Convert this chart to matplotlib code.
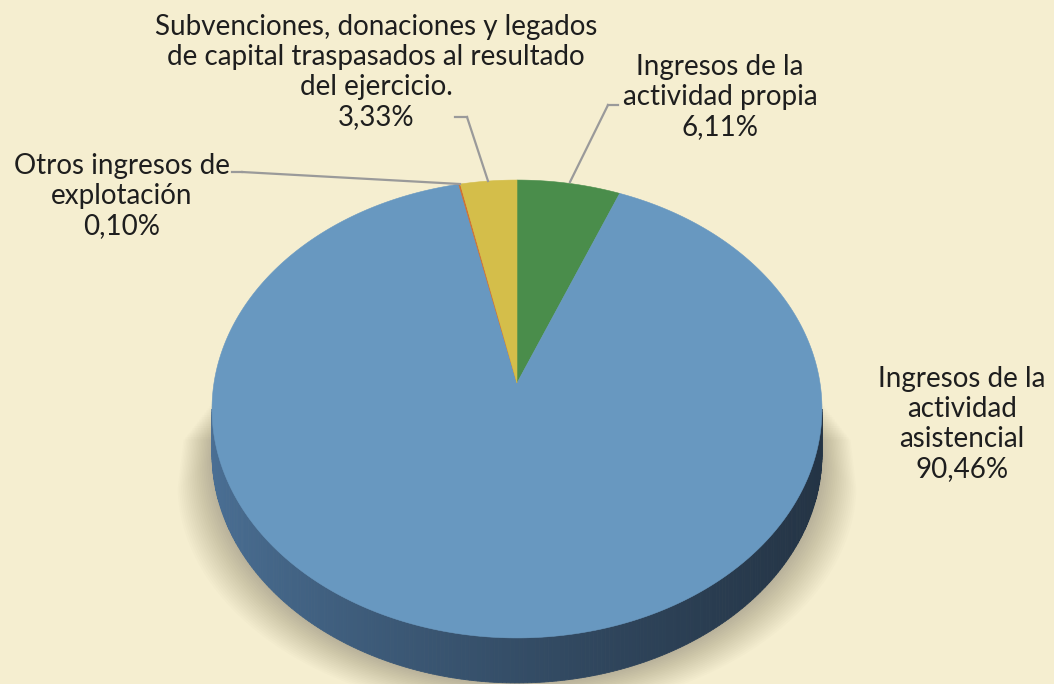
import numpy as np
import matplotlib
matplotlib.use("Agg")
import matplotlib.pyplot as plt
from matplotlib.patches import Polygon

# datos del grafico (porcentajes, orden horario desde las 12)
labels = ["Ingresos de la\nactividad propia\n6,11%",
          "Ingresos de la\nactividad\nasistencial\n90,46%",
          "Otros ingresos de\nexplotación\n0,10%",
          "Subvenciones, donaciones y legados\nde capital traspasados al resultado\ndel ejercicio.\n3,33%"]
values = [6.11, 90.46, 0.10, 3.33]
colors = ["#4A8D4B", "#6898C0", "#D0702F", "#D4BE4A"]

BG = "#F5EED0"
W, H = 1054, 684

# proyeccion en perspectiva del disco (pixeles)
CX, CY = 517, 383
K = 0.1135
A, B = 303.0, 226.0
DEPTH = 45


def proj(u, v, z=0.0):
    d = 1 + K * v
    return CX + A * u / d, CY - B * v / d + z


def arc(t0, t1, n=200, z=0.0):
    t = np.linspace(t0, t1, n)
    x, y = proj(np.cos(t), np.sin(t), z)
    return np.column_stack([x, y])


fig = plt.figure(figsize=(W / 100, H / 100), dpi=100, facecolor=BG)
ax = fig.add_axes([0, 0, 1, 1])
ax.set_xlim(0, W)
ax.set_ylim(H, 0)
ax.axis("off")
ax.set_facecolor(BG)

# sombra bajo la tarta
n_sh = 20
lo = np.arcsin(K)  # extremos laterales de la elipse
for i in range(n_sh):
    e = 34 * (1 - i / n_sh)
    pts = arc(np.pi + lo + 0.02, 2 * np.pi - lo - 0.02, 200, DEPTH)
    pts[:, 0] = CX + (pts[:, 0] - CX) * (1 + e / 300.0)
    pts[:, 1] = pts[:, 1] + e * 0.9
    top_y = CY + 12 + e * 1.3
    poly = np.vstack([[pts[0, 0] + 6, top_y], pts, [pts[-1, 0] - 6, top_y]])
    ax.add_patch(Polygon(poly, closed=True, facecolor="black",
                         edgecolor="none", alpha=0.012, zorder=1))

# pared lateral (solo la parte delantera, toda azul)
c_left = np.array([0x4A, 0x6F, 0x94]) / 255
c_right = np.array([0x24, 0x34, 0x45]) / 255
ts = np.linspace(np.pi + lo, 2 * np.pi - lo, 240)
for t0, t1 in zip(ts[:-1], ts[1:]):
    top = arc(t0, t1, 3)
    bot = arc(t1, t0, 3, DEPTH)
    xm = top[:, 0].mean()
    f = np.clip((xm - 213) / (822 - 213), 0, 1) ** 0.8
    col = c_left * (1 - f) + c_right * f
    ax.add_patch(Polygon(np.vstack([top, bot]), closed=True, facecolor=col,
                         edgecolor=col, linewidth=0.6, zorder=2))

# cara superior
start = np.pi / 2
for val, col in zip(values, colors):
    sweep = 2 * np.pi * val / 100.0
    pts = arc(start, start - sweep, max(int(val * 8), 6))
    poly = np.vstack([[CX, CY], pts])
    ax.add_patch(Polygon(poly, closed=True, facecolor=col, edgecolor=col,
                         linewidth=0.4, zorder=3))
    start -= sweep

# lineas guia
lc = "#9A9A9A"
ax.plot([608, 618], [105, 105], color=lc, lw=1.6, zorder=4)
ax.plot([608, 570], [105, 182], color=lc, lw=1.6, zorder=4)
ax.plot([455, 467], [117, 117], color=lc, lw=1.6, zorder=4)
ax.plot([467, 488], [117, 181], color=lc, lw=1.6, zorder=4)
ax.plot([232, 242], [172, 172], color=lc, lw=1.6, zorder=4)
ax.plot([242, 460], [172, 184], color=lc, lw=1.6, zorder=4)

# etiquetas
tk = dict(ha="center", va="center", fontsize=20, color="#1E1E1E",
          family="Lato", linespacing=1.18, zorder=5)
ax.text(720, 97, labels[0], **tk)
ax.text(962, 424, labels[1], **tk)
ax.text(122, 196, labels[2], **tk)
ax.text(376, 72, labels[3], **tk)

fig.savefig("out.png", dpi=100, facecolor=BG)
